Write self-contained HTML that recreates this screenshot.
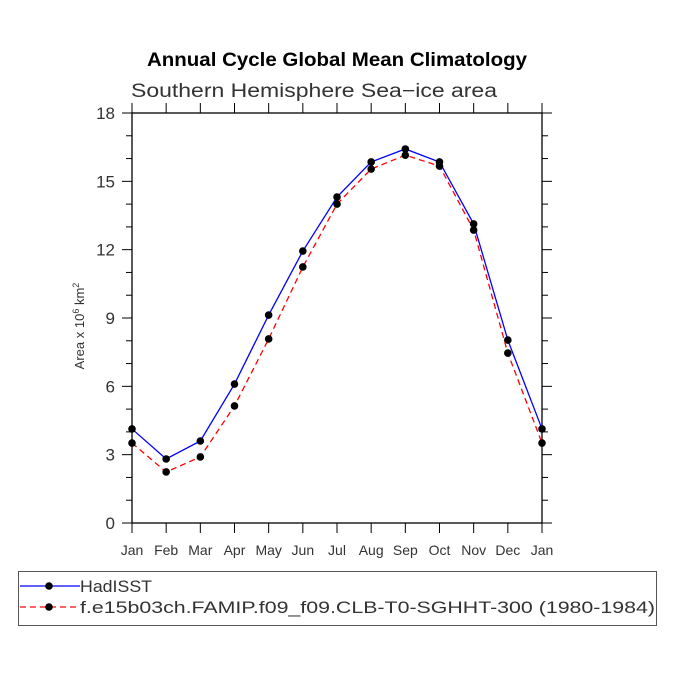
<!DOCTYPE html>
<html><head><meta charset="utf-8"><style>
body{margin:0;background:#fff}
svg text{font-family:"Liberation Sans",sans-serif}
</style></head><body>
<svg width="675" height="675" viewBox="0 0 675 675">
<text x="147" y="66" textLength="380" lengthAdjust="spacingAndGlyphs" font-size="19" font-weight="bold">Annual Cycle Global Mean Climatology</text>
<text x="131" y="97" textLength="366" lengthAdjust="spacingAndGlyphs" font-size="19" fill="#333">Southern Hemisphere Sea−ice area</text>
<g id="axes"></g>
<g id="series"></g>
<text transform="translate(84,326) rotate(-90)" text-anchor="middle" font-size="13" fill="#333">Area x 10<tspan dy="-5" font-size="9">6</tspan><tspan dy="5"> km</tspan><tspan dy="-5" font-size="9">2</tspan></text>
<g>
<rect x="18.5" y="571.5" width="638" height="54" fill="none" stroke="#555"/>
<g>
<line x1="20" y1="586" x2="80" y2="586" stroke="#0000ff" stroke-width="1.3"/>
<circle cx="49" cy="586" r="3.8" fill="#000"/>
<text x="80" y="592" textLength="72" lengthAdjust="spacingAndGlyphs" font-size="17" fill="#333">HadISST</text></g>
<g>
<line x1="20" y1="607" x2="80" y2="607" stroke="#ff0000" stroke-width="1.3" stroke-dasharray="6,4"/>
<circle cx="49" cy="607" r="3.8" fill="#000"/>
<text x="80" y="613" textLength="575" lengthAdjust="spacingAndGlyphs" font-size="17" fill="#333">f.e15b03ch.FAMIP.f09_f09.CLB-T0-SGHHT-300 (1980-1984)</text></g>
</g>
</svg>
<script>
const months=["Jan","Feb","Mar","Apr","May","Jun","Jul","Aug","Sep","Oct","Nov","Dec","Jan"];
const hadisst=[4.13,2.81,3.6,6.1,9.13,11.94,14.31,15.85,16.42,15.85,13.13,8.03,4.13];
const model=[3.51,2.24,2.9,5.14,8.08,11.24,14.0,15.54,16.15,15.67,12.86,7.46,3.51];
const yTicks=[0,3,6,9,12,15,18];
const NS="http://www.w3.org/2000/svg";
const L=132,R=542,T=113,B=523,yMax=18;
const xs=i=>L+(R-L)*i/(months.length-1);
const ys=v=>B-(B-T)*v/yMax;
function mk(tag,attrs,parent){const e=document.createElementNS(NS,tag);for(const k in attrs)e.setAttribute(k,attrs[k]);parent.appendChild(e);return e;}
const ax=document.getElementById('axes');
const fr=mk('rect',{x:L,y:T,width:R-L,height:B-T,fill:'none',stroke:'#000','stroke-width':1.3},ax);


for(let v=0;v<=yMax;v++){const maj=v%3===0,len=maj?10:6,y=ys(v);
 mk('line',{x1:L-len,x2:L,y1:y,y2:y,stroke:'#000'},ax);
 mk('line',{x1:R,x2:R+len,y1:y,y2:y,stroke:'#000'},ax);}
yTicks.forEach(v=>{const t=mk('text',{x:L-17,y:ys(v)+6,'text-anchor':'end','font-size':17,fill:'#333'},ax);t.textContent=v;
 
 });
months.forEach((m,i)=>{const x=xs(i);
 mk('line',{x1:x,x2:x,y1:B,y2:B+10,stroke:'#000'},ax);
 mk('line',{x1:x,x2:x,y1:T-10,y2:T,stroke:'#000'},ax);
 const t=mk('text',{x:x,y:B+32,'text-anchor':'middle','font-size':14,fill:'#333'},ax);t.textContent=m;
 
 });
const sg=document.getElementById('series');
function series(vals,color,dash,name){
 const g=mk('g',{},sg);
 
 
 const a={points:vals.map((v,i)=>xs(i)+','+ys(v)).join(' '),fill:'none',stroke:color,'stroke-width':1.3};
 if(dash)a['stroke-dasharray']=dash;
 mk('polyline',a,g);
 vals.forEach((v,i)=>{const c=mk('circle',{cx:xs(i),cy:ys(v),r:3.8,fill:'#000'},g);
  
  });
}
series(hadisst,'#0000ff',null,'series-hadisst');
series(model,'#ff0000','6,4','series-model');
</script>
</body></html>
